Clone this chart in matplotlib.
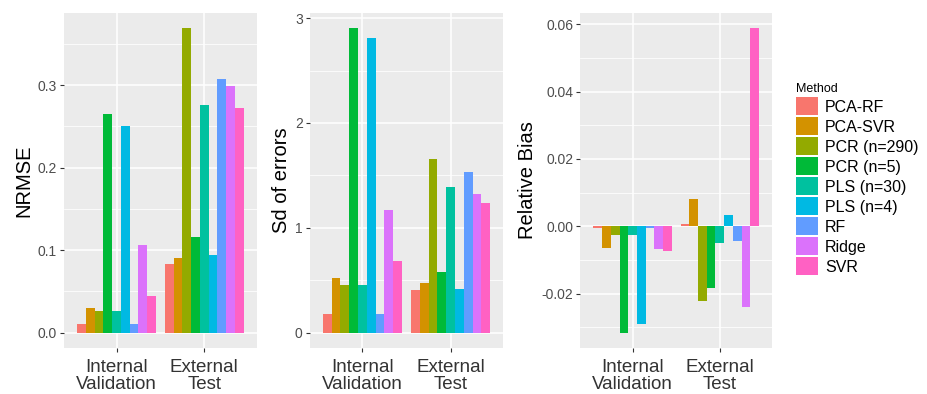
import matplotlib.pyplot as plt
import numpy as np
from matplotlib.patches import Patch
from matplotlib.ticker import MultipleLocator

plt.rcParams['font.family'] = ['Liberation Sans', 'DejaVu Sans']

methods = ["PCA-RF", "PCA-SVR", "PCR (n=290)", "PCR (n=5)", "PLS (n=30)",
           "PLS (n=4)", "RF", "Ridge", "SVR"]
colors = ["#F8766D", "#D39200", "#93AA00", "#00BA38", "#00C19F",
          "#00B9E3", "#619CFF", "#DB72FB", "#FF61C3"]
groups = ["Internal\nValidation", "External\nTest"]

# values per method: [internal, external]
nrmse = [[0.010, 0.083], [0.030, 0.090], [0.026, 0.369], [0.265, 0.116],
         [0.026, 0.276], [0.250, 0.094], [0.010, 0.308], [0.106, 0.299],
         [0.045, 0.272]]
sd_err = [[0.175, 0.408], [0.525, 0.471], [0.452, 1.653], [2.904, 0.580],
          [0.452, 1.385], [2.810, 0.420], [0.175, 1.535], [1.172, 1.320],
          [0.685, 1.236]]
rel_bias = [[-0.0005, 0.0007], [-0.0065, 0.0081], [-0.0025, -0.0221],
            [-0.0316, -0.0184], [-0.0025, -0.0051], [-0.0290, 0.0034],
            [-0.0005, -0.0045], [-0.0067, -0.0240], [-0.0074, 0.0588]]

panels = [
    (nrmse, "NRMSE", 0.1, 0.05, "{:.1f}", [0.069, 0.117, 0.208, 0.850]),
    (sd_err, "Sd of errors", 1, 0.5, "{:.0f}", [0.334, 0.117, 0.209, 0.850]),
    (rel_bias, "Relative Bias", 0.02, 0.01, "{:.2f}", [0.626, 0.117, 0.207, 0.850]),
]

fig = plt.figure(figsize=(9.27, 3.94), dpi=100)

for data, ylabel, major, minor, fmt, rect in panels:
    ax = fig.add_axes(rect)
    ax.set_facecolor("#EBEBEB")
    vals = np.array(data)
    x = np.arange(1, len(groups) + 1)
    for i, m in enumerate(methods):
        ax.bar(x + (i - 4) * 0.1, vals[i], width=0.1, color=colors[i], zorder=3)
    lo = min(0, vals.min())
    hi = max(0, vals.max())
    pad = (hi - lo) * 0.05
    ax.set_ylim(lo - pad, hi + pad)
    ax.set_xlim(0.4, 2.6)
    ax.yaxis.set_major_locator(MultipleLocator(major))
    ax.yaxis.set_minor_locator(MultipleLocator(minor))
    ax.yaxis.set_major_formatter(lambda v, p, f=fmt: f.format(v).replace("-0.00", "0.00"))
    ax.set_xticks(x)
    ax.set_xticklabels(groups, fontsize=13.5, color="#4D4D4D", linespacing=1.02)
    ax.tick_params(axis="y", labelsize=10, colors="#333333", labelcolor="#4D4D4D",
                   length=3, width=0.8, pad=2)
    ax.tick_params(axis="y", which="minor", length=0)
    ax.tick_params(axis="x", colors="#333333", length=3, width=0.8, pad=5)
    ax.grid(True, which="major", color="white", linewidth=1.1, zorder=0)
    ax.grid(True, which="minor", axis="y", color="white", linewidth=0.55, zorder=0)
    ax.set_axisbelow(True)
    for s in ax.spines.values():
        s.set_visible(False)
    ax.set_ylabel(ylabel, fontsize=14.5, labelpad=3)

handles = [Patch(facecolor=c, edgecolor="none") for c in colors]
leg = fig.legend(handles, methods, loc="upper left", bbox_to_anchor=(0.852, 0.805),
                 frameon=False, title="Method", fontsize=11.5, title_fontsize=9,
                 handlelength=1.35, handleheight=1.35, handletextpad=0.45,
                 labelspacing=0.13, borderaxespad=0)
leg._legend_box.align = "left"

fig.savefig("out.png", dpi=100)
